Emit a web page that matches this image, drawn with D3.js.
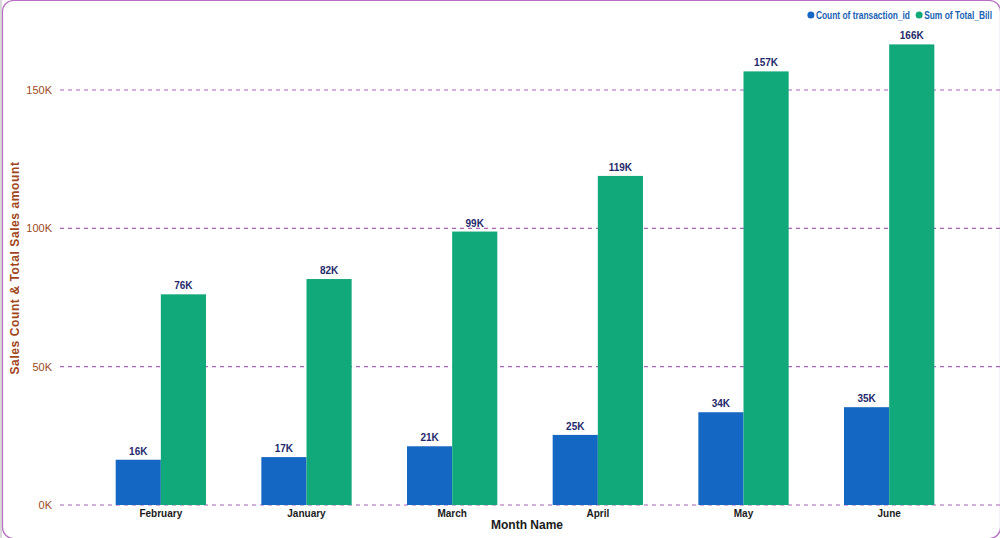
<!DOCTYPE html>
<html lang="en">
<head>
<meta charset="UTF-8"/>
<title>Sales Count & Total Sales by Month</title>
<script src="https://d3js.org/d3.v7.min.js"></script>
<style>
    body { margin: 0; background: #fff; font-family: "Liberation Sans", Arial, sans-serif; }
    .grid line { stroke: #a862b8; stroke-dasharray: 4,4; stroke-width: 1.2px; }
    .bar-label { font-size: 10px; font-weight: bold; fill: #1f2a6b; text-anchor: middle; }
</style>
</head>
<body>
<script>
    var w = 1000;
    var h = 538;

    var months = ["February", "January", "March", "April", "May", "June"];
    var txCount = [16359, 17314, 21229, 25335, 33527, 35352];
    var totalBill = [76145, 81678, 98835, 118941, 156728, 166486];
    var yTicks = [0, 50000, 100000, 150000];
    var seriesNames = ["Count of transaction_id", "Sum of Total_Bill"];
    var colors = ["#1467c2", "#12a97a"];

    var svg = d3.select("body").append("svg")
        .attr("width", w)
        .attr("height", h);

    // card frame
    svg.append("rect")
        .attr("x", 0).attr("y", 0)
        .attr("width", 2).attr("height", h)
        .attr("fill", "#d9d9d9");
    svg.append("rect")
        .attr("x", 2.5).attr("y", 0.5)
        .attr("width", 998).attr("height", 538)
        .attr("rx", 11)
        .attr("fill", "none")
        .attr("stroke", "#b870c4")
        .attr("stroke-width", 1.2);

    var xScale = d3.scaleBand()
        .domain(months)
        .range([88, 962])
        .paddingInner(0.38)
        .paddingOuter(0.19);

    var xSub = d3.scaleBand()
        .domain([0, 1])
        .range([0, xScale.bandwidth()]);

    var yScale = d3.scaleLinear()
        .domain([0, 150000])
        .range([505, 90]);

    // gridlines
    svg.append("g")
        .attr("class", "grid")
        .selectAll("line")
        .data(yTicks)
        .enter().append("line")
        .attr("x1", 60)
        .attr("x2", 1000)
        .attr("y1", function(d) { return yScale(d); })
        .attr("y2", function(d) { return yScale(d); });

    // y tick labels
    svg.append("g")
        .selectAll("text")
        .data(yTicks)
        .enter().append("text")
        .attr("x", 52)
        .attr("y", function(d) { return yScale(d); })
        .attr("dy", "0.35em")
        .attr("text-anchor", "end")
        .attr("font-size", "11px")
        .attr("fill", "#9c4a1c")
        .text(function(d) { return (d / 1000) + "K"; });

    // y axis title
    svg.append("text")
        .attr("transform", "translate(19,268) rotate(-90)")
        .attr("text-anchor", "middle")
        .attr("font-size", "12px")
        .attr("font-weight", "bold")
        .attr("letter-spacing", "0.6px")
        .attr("fill", "#a0461a")
        .text("Sales Count & Total Sales amount");

    var rows = months.map(function(m, i) {
        return { month: m, values: [txCount[i], totalBill[i]] };
    });

    var groups = svg.selectAll(".month")
        .data(rows)
        .enter().append("g")
        .attr("class", "month")
        .attr("transform", function(d) { return "translate(" + xScale(d.month) + ",0)"; });

    groups.selectAll("rect")
        .data(function(d) { return d.values; })
        .enter().append("rect")
        .attr("x", function(d, i) { return xSub(i); })
        .attr("y", function(d) { return yScale(d); })
        .attr("width", xSub.bandwidth())
        .attr("height", function(d) { return yScale(0) - yScale(d); })
        .attr("fill", function(d, i) { return colors[i]; });

    groups.selectAll(".bar-label")
        .data(function(d) { return d.values; })
        .enter().append("text")
        .attr("class", "bar-label")
        .attr("x", function(d, i) { return xSub(i) + xSub.bandwidth() / 2; })
        .attr("y", function(d) { return yScale(d) - 5; })
        .text(function(d) { return Math.round(d / 1000) + "K"; });

    // x tick labels
    svg.append("g")
        .selectAll("text")
        .data(months)
        .enter().append("text")
        .attr("x", function(d) { return xScale(d) + xScale.bandwidth() / 2; })
        .attr("y", 517)
        .attr("text-anchor", "middle")
        .attr("font-size", "10px")
        .attr("font-weight", "bold")
        .attr("fill", "#1a1a1a")
        .text(function(d) { return d; });

    svg.append("text")
        .attr("x", 527)
        .attr("y", 529)
        .attr("text-anchor", "middle")
        .attr("font-size", "12px")
        .attr("font-weight", "bold")
        .attr("fill", "#1a1a1a")
        .text("Month Name");

    // legend: text right-aligned, squeezed horizontally
    var legendEnd = [910, 992];
    var sx = 0.84;
    var legend = svg.selectAll(".legend")
        .data(seriesNames)
        .enter().append("g")
        .attr("class", "legend")
        .attr("transform", function(d, i) { return "translate(" + legendEnd[i] + ",15)"; });

    legend.append("text")
        .attr("transform", "scale(" + sx + ",1)")
        .attr("text-anchor", "end")
        .attr("dy", "0.35em")
        .attr("font-size", "10px")
        .attr("font-weight", "bold")
        .attr("fill", "#1a5fb4")
        .text(function(d) { return d; });

    legend.each(function() {
        var g = d3.select(this);
        var tw = g.select("text").node().getComputedTextLength() * sx;
        g.insert("circle", "text")
            .attr("cx", -tw - 5)
            .attr("cy", 0)
            .attr("r", 3.5)
            .attr("fill", function(d) { return colors[seriesNames.indexOf(d)]; });
    });
</script>
</body>
</html>
